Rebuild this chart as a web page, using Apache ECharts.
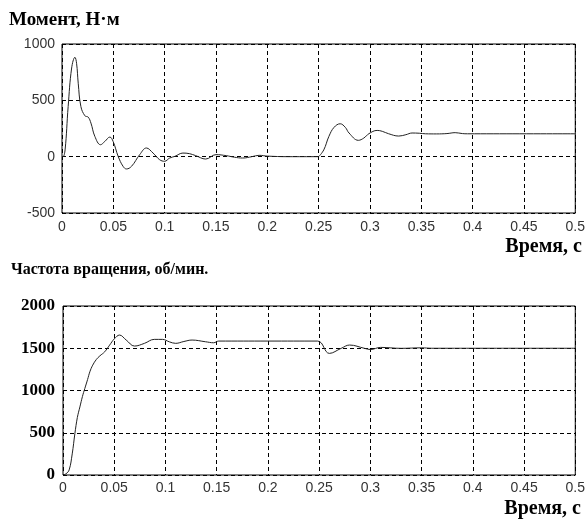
<!DOCTYPE html>
<html>
<head>
<meta charset="utf-8">
<script src="https://cdn.jsdelivr.net/npm/echarts@6/dist/echarts.min.js"></script>
<style>html,body{margin:0;padding:0;background:#fff}#c{width:588px;height:520px}</style>
</head>
<body>
<div id="c"></div>
<script>
// Torque (Момент, Н·м)
var torqueT = [0, 0.001, 0.003, 0.006, 0.0094, 0.0126, 0.0142, 0.0158, 0.0184, 0.0223, 0.0255, 0.0282, 0.032, 0.0375, 0.0417, 0.0466, 0.0498, 0.0547, 0.0595, 0.0628, 0.0677, 0.0757, 0.0822, 0.0887, 0.0951, 0.1, 0.1049, 0.11, 0.1178, 0.124, 0.13, 0.14, 0.15, 0.16, 0.168, 0.176, 0.185, 0.192, 0.2, 0.22, 0.25, 0.2505, 0.255, 0.26, 0.265, 0.271, 0.276, 0.2796, 0.2887, 0.294, 0.299, 0.307, 0.312, 0.318, 0.328, 0.335, 0.341, 0.348, 0.354, 0.365, 0.375, 0.383, 0.39, 0.395, 0.42, 0.5];
var torqueV = [0, 0, 60, 445, 787, 882, 829, 652, 445, 363, 351, 298, 180, 106, 135, 174, 135, 3, -86, -109, -86, 18, 77, 32, -27, -41, -12, 3, 32, 27, 10, -21, 18, 9, -5, -12, 0, 12, 5, 0, 0, 0, 60, 180, 260, 292, 260, 210, 145, 165, 204, 233, 225, 204, 183, 195, 210, 208, 203, 202, 205, 213, 205, 203, 203, 203];
// Speed (Частота вращения, об/мин.)
var speedT = [0, 0.003, 0.006, 0.009, 0.0116, 0.014, 0.0165, 0.019, 0.0213, 0.024, 0.0262, 0.029, 0.0326, 0.036, 0.0407, 0.0455, 0.05, 0.0552, 0.0617, 0.0698, 0.0795, 0.0891, 0.097, 0.104, 0.11, 0.118, 0.126, 0.139, 0.147, 0.152, 0.2, 0.2485, 0.26, 0.2715, 0.2797, 0.2943, 0.3, 0.31, 0.33, 0.35, 0.36, 0.5];
var speedV = [0, 15, 60, 250, 490, 680, 806, 930, 1024, 1130, 1221, 1300, 1368, 1410, 1458, 1537, 1610, 1656, 1597, 1526, 1558, 1605, 1605, 1575, 1558, 1580, 1597, 1577, 1565, 1585, 1585, 1585, 1439, 1499, 1538, 1499, 1485, 1510, 1499, 1505, 1500, 1500];
var torqueTicks = [-500, 0, 500, 1000];
var speedTicks = [0, 500, 1000, 1500, 2000];

function pairs(t, v) { return t.map(function (x, i) { return [x, v[i]]; }); }

var chart = echarts.init(document.getElementById('c'), null, { renderer: 'canvas' });
var grid = { show: true, borderColor: '#000', borderWidth: 1, backgroundColor: 'transparent' };
var split = { show: true, lineStyle: { color: '#000', type: [4, 3], width: 1 } };
function xAx(idx, margin) {
  return {
    type: 'value', gridIndex: idx, min: 0, max: 0.5, interval: 0.05,
    axisLine: { show: false }, axisTick: { show: false }, splitLine: split,
    axisLabel: { color: '#333', fontFamily: 'Liberation Sans, Arial', fontSize: 14, margin: margin,
      formatter: function (v) { return String(Math.round(v * 100) / 100); } }
  };
}
function plain(v) { return String(v); }
chart.setOption({
  animation: false,
  title: [
    { text: 'Момент, Н·м', left: 9, top: 11, padding: 0,
      textStyle: { fontFamily: 'Liberation Serif', fontWeight: 'bold', fontSize: 19, color: '#000' } },
    { text: 'Время, с', right: 6, top: 237, padding: 0,
      textStyle: { fontFamily: 'Liberation Serif', fontWeight: 'bold', fontSize: 20, color: '#000' } },
    { text: 'Частота вращения, об/мин.', left: 11, top: 262, padding: 0,
      textStyle: { fontFamily: 'Liberation Serif', fontWeight: 'bold', fontSize: 16, color: '#000' } },
    { text: 'Время, с', right: 7, top: 499, padding: 0,
      textStyle: { fontFamily: 'Liberation Serif', fontWeight: 'bold', fontSize: 20, color: '#000' } }
  ],
  grid: [
    Object.assign({ left: 62, right: 11, top: 44, height: 169 }, grid),
    Object.assign({ left: 63, right: 10, top: 306, height: 169 }, grid)
  ],
  xAxis: [xAx(0, 7), xAx(1, 6)],
  yAxis: [
    { type: 'value', gridIndex: 0, min: torqueTicks[0], max: torqueTicks[torqueTicks.length - 1], interval: 500,
      axisLine: { show: false }, axisTick: { show: false }, splitLine: split,
      axisLabel: { color: '#333', fontFamily: 'Liberation Sans, Arial', fontSize: 14, margin: 7, formatter: plain } },
    { type: 'value', gridIndex: 1, min: speedTicks[0], max: speedTicks[speedTicks.length - 1], interval: 500,
      axisLine: { show: false }, axisTick: { show: false }, splitLine: split,
      axisLabel: { color: '#000', fontFamily: 'Liberation Serif', fontWeight: 'bold', fontSize: 17, margin: 8, formatter: plain } }
  ],
  series: [
    { type: 'line', xAxisIndex: 0, yAxisIndex: 0, data: pairs(torqueT, torqueV), showSymbol: false,
      smooth: 0.4, lineStyle: { color: '#222', width: 1 } },
    { type: 'line', xAxisIndex: 1, yAxisIndex: 1, data: pairs(speedT, speedV), showSymbol: false,
      smooth: 0.4, lineStyle: { color: '#222', width: 1 } }
  ]
});
</script>
</body>
</html>
